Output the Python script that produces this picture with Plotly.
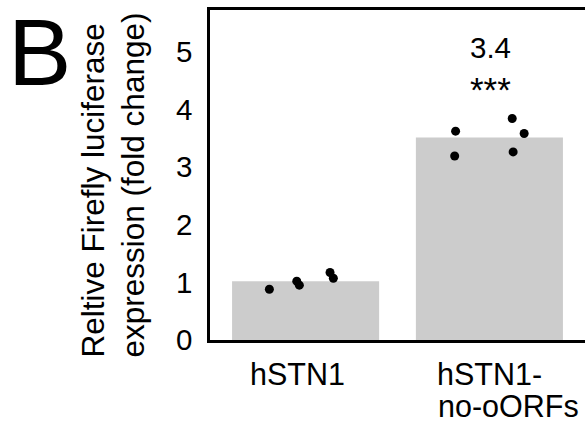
import plotly.graph_objects as go

categories = ["hSTN1", "hSTN1-no-oORFs"]
label_lines = [["hSTN1"], ["hSTN1-", "no-oORFs"]]
means = [1.02, 3.51]
points_hstn1 = [0.88, 1.02, 0.95, 1.17, 1.07]
points_noorf = [3.62, 3.19, 3.84, 3.58, 3.26]
fold_label = "3.4"
signif = "***"
y_ticks = [0, 1, 2, 3, 4, 5]
y_title = "Reltive Firefly luciferase<br>expression (fold change)"

# horizontal jitter of replicate dots (category units)
jit1 = [-0.197, -0.048, -0.034, 0.133, 0.151]
jit2 = [-0.184, -0.189, 0.124, 0.189, 0.129]

FONT = "Liberation Sans, Arial, sans-serif"
W, H = 585, 433
L, R, T, B = 210, 0, 10, 93


def px(xpix, ypix):
    return (xpix - L) / (W - L - R), (H - B - ypix) / (H - B - T)


fig = go.Figure()
fig.add_trace(go.Bar(x=[0, 1], y=means, width=0.8, marker=dict(color="#cccccc", line=dict(width=0)),
                     showlegend=False, hoverinfo="skip"))
fig.add_trace(go.Scatter(x=[0 + j for j in jit1], y=points_hstn1, mode="markers",
                         marker=dict(color="black", size=9), showlegend=False))
fig.add_trace(go.Scatter(x=[1 + j for j in jit2], y=points_noorf, mode="markers",
                         marker=dict(color="black", size=9), showlegend=False))


def ann(text, xpix, ypix, size, xanchor="center", yanchor="middle", angle=0, align="center"):
    x, y = px(xpix, ypix)
    fig.add_annotation(x=x, y=y, xref="paper", yref="paper", text=text, showarrow=False,
                       xanchor=xanchor, yanchor=yanchor, textangle=angle, align=align,
                       font=dict(size=size, color="black", family=FONT))


ann(fold_label, 490, 48, 29.5)
ann(signif, 490, 89, 35)

# x category labels
ann(label_lines[0][0], 248, 374, 30.5, xanchor="left")
ann(label_lines[1][0], 435, 374, 30.5, xanchor="left")
ann(label_lines[1][1], 436, 406, 30.5, xanchor="left")

# y title
ann(y_title, 113, 185.5, 31.5, angle=-90, align="left")
# panel letter
ann("B", 39.5, 52, 95)

fig.update_layout(
    width=W, height=H,
    margin=dict(l=L, r=R, t=T, b=B),
    plot_bgcolor="white", paper_bgcolor="white",
    font=dict(family=FONT, color="black"),
    xaxis=dict(range=[-0.52, 1.52], showticklabels=False, showgrid=False, zeroline=False,
               showline=True, linecolor="black", linewidth=2.5, mirror=True, ticks=""),
    yaxis=dict(range=[0, 5.72], tickvals=y_ticks, showgrid=False, zeroline=False,
               showline=True, linecolor="black", linewidth=2.5, ticks="",
               ticklabelstandoff=9, tickfont=dict(size=29.5, color="black", family=FONT)),
)

fig.write_html("out.html", post_script="document.body.style.margin='0';",
               config={"displayModeBar": False})
